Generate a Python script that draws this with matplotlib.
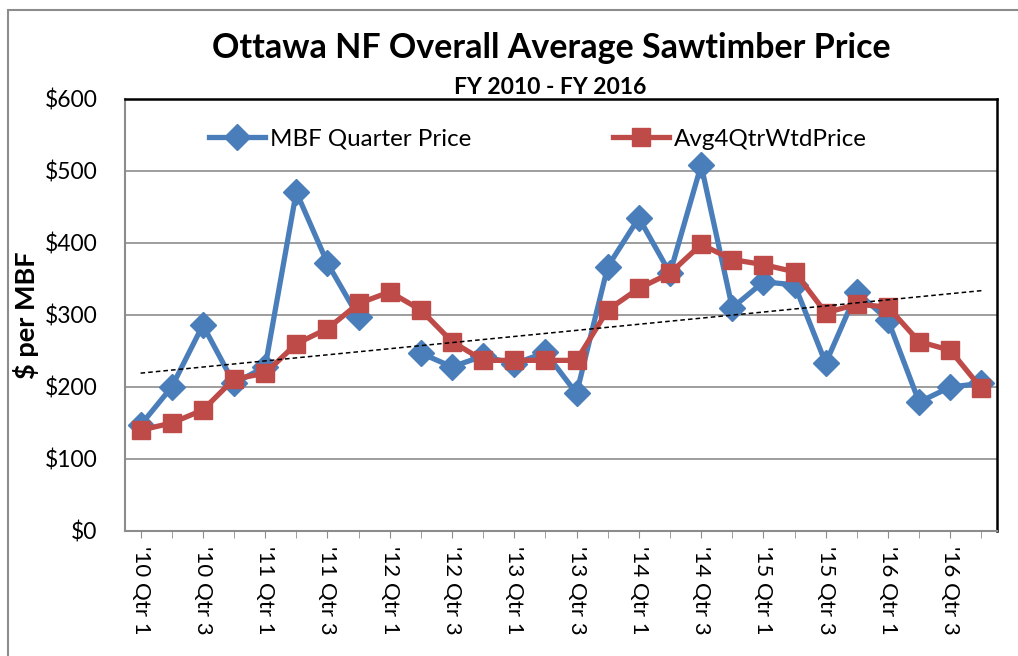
import numpy as np
import matplotlib
matplotlib.use("Agg")
import matplotlib.pyplot as plt
from matplotlib.patches import Rectangle

plt.rcParams['font.family'] = ['Lato', 'DejaVu Sans']

quarters = [f"'{y} Qtr {q}" for y in range(10, 17) for q in range(1, 5)]
mbf_price = [147, 200, 286, 205, 228, 471, 372, 297, np.nan, 247,
             228, 243, 232, 248, 191, 367, 435, 358, 508, 310,
             346, 342, 233, 332, 293, 179, 200, 205]
avg4_price = [140, 150, 168, 211, 219, 260, 281, 316, 332, 307,
              263, 237, 237, 237, 237, 307, 337, 358, 398, 377,
              370, 360, 303, 315, 311, 263, 251, 198]
y_ticks = [0, 100, 200, 300, 400, 500, 600]

blue = '#4A7EBB'
red = '#BE4B48'

fig = plt.figure(figsize=(10.18, 6.56), dpi=100)
ax = fig.add_axes([125/1018, 1-531/656, (997-125)/1018, (531-99)/656])

x = np.arange(len(quarters))
mbf = np.array(mbf_price, dtype=float)
avg = np.array(avg4_price, dtype=float)

# linear trendline of the 4-quarter weighted average
coef = np.polyfit(x, avg, 1)
ax.plot(x, np.polyval(coef, x), color='black', lw=1.1, ls=(0, (3, 2)), zorder=4)

ax.plot(x, mbf, color=blue, lw=3.8, marker='D', markersize=13, zorder=3,
        label='MBF Quarter Price')
ax.plot(x, avg, color=red, lw=3.8, marker='s', markersize=13.5, zorder=3,
        label='Avg4QtrWtdPrice')

ax.set_xlim(-0.5, len(quarters) - 0.5)
ax.set_ylim(0, 600)
ax.set_yticks(y_ticks)
ax.set_yticklabels([f"${v}" for v in y_ticks], fontsize=16.5)
ax.yaxis.grid(True, color='#8c8c8c', lw=1.2)
ax.set_axisbelow(True)
ax.tick_params(axis='y', length=0, pad=20)

ax.set_xticks(x[::2])
ax.set_xticklabels(quarters[::2], rotation=270, fontsize=16, va='top', ha='center')
ax.set_xticks(x, minor=True)
ax.tick_params(axis='x', which='both', direction='out', length=5, color='#8c8c8c', pad=6)

for s in ['left', 'bottom']:
    ax.spines[s].set_color('#8c8c8c')
    ax.spines[s].set_linewidth(1.5)
for s in ['top', 'right']:
    ax.spines[s].set_color('black')
    ax.spines[s].set_linewidth(1.8)

ax.set_ylabel('$ per MBF', fontsize=19.5, fontweight='bold')
ax.yaxis.set_label_coords(-0.099, 0.5)

leg = ax.legend(loc='center left', bbox_to_anchor=(0.0965, 0.907), ncol=2, frameon=False,
                fontsize=17.4, handlelength=2.3, columnspacing=5.9, handletextpad=0.2,
                borderpad=0, borderaxespad=0)

fig.text(551/1018, 1-48/656, 'Ottawa NF Overall Average Sawtimber Price', ha='center', va='center',
         fontsize=24.5, fontweight='bold')
fig.text(550/1018, 1-87/656, 'FY 2010 - FY 2016', ha='center', va='center',
         fontsize=16.5, fontweight='bold')

fig.patches.append(Rectangle((8/1018, -0.1), 1.2, 1-10/656+0.1, transform=fig.transFigure,
                             fill=False, edgecolor='#8c8c8c', lw=1.5))

fig.savefig('out.png', dpi=100)
